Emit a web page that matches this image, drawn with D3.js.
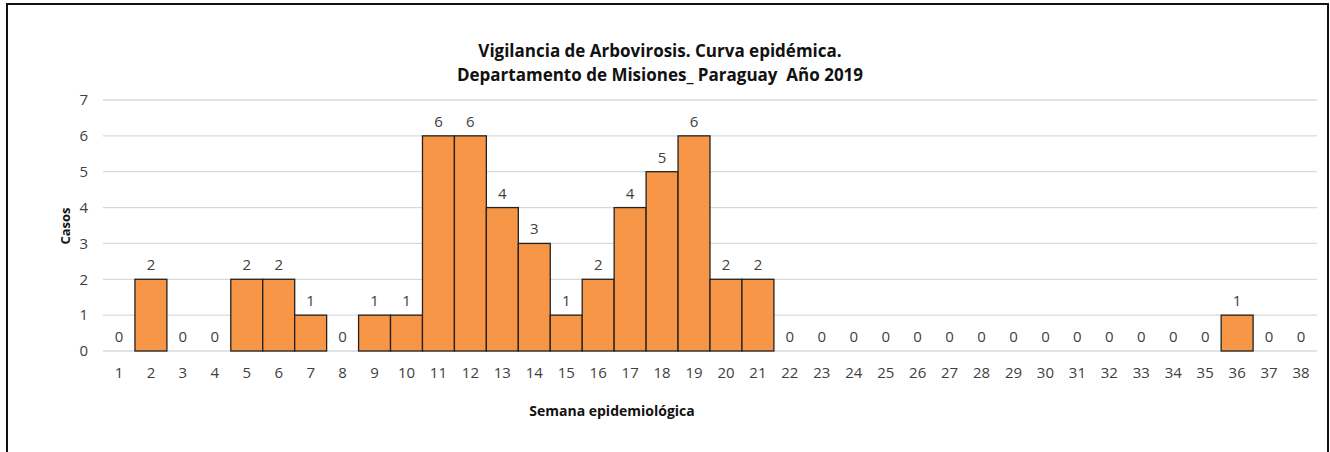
<!DOCTYPE html>
<html>
<head>
<meta charset="utf-8">
<script src="https://cdn.jsdelivr.net/npm/d3@7"></script>
<style>
  html, body { margin: 0; padding: 0; background: #fff; }
  svg { display: block; font-family: "Open Sans", "Noto Sans", sans-serif; }
</style>
</head>
<body>
<svg id="chart" width="1330" height="452"></svg>
<script>
  const weeks = d3.range(1, 39).map(String);
  const cases = [0, 2, 0, 0, 2, 2, 1, 0, 1, 1, 6, 6, 4, 3, 1, 2, 4, 5, 6, 2, 2,
    0, 0, 0, 0, 0, 0, 0, 0, 0, 0, 0, 0, 0, 0, 1, 0, 0];
  const yTicks = [0, 1, 2, 3, 4, 5, 6, 7];
  const titleLines = ['Vigilancia de Arbovirosis. Curva epidémica.', 'Departamento de Misiones_ Paraguay  Año 2019'];

  const svg = d3.select('#chart');
  const margin = { left: 103, right: 13, top: 100, bottom: 101 };
  const width = 1330, height = 452;
  const numFont = 15;

  // frame
  svg.append('rect')
    .attr('x', 7).attr('y', 4)
    .attr('width', 1321).attr('height', 460)
    .attr('fill', 'none').attr('stroke', '#111').attr('stroke-width', 2);

  const x = d3.scaleBand()
    .domain(weeks)
    .range([margin.left, width - margin.right])
    .padding(0);

  const y = d3.scaleLinear()
    .domain([0, 7])
    .range([height - margin.bottom, margin.top]);

  // gridlines
  svg.append('g')
    .selectAll('line')
    .data(yTicks)
    .enter()
    .append('line')
    .attr('x1', margin.left)
    .attr('x2', width - margin.right)
    .attr('y1', function (d) { return y(d); })
    .attr('y2', function (d) { return y(d); })
    .attr('stroke', '#d9d9d9')
    .attr('stroke-width', 1.3);

  // y axis labels
  const yAxis = svg.append('g')
    .attr('transform', 'translate(' + (margin.left - 10) + ',0)')
    .call(d3.axisLeft(y).tickValues(yTicks).tickFormat(d3.format('d')).tickSize(0).tickPadding(5));
  yAxis.select('.domain').remove();
  yAxis.selectAll('text')
    .attr('font-family', '"Open Sans", "Noto Sans", sans-serif')
    .attr('font-size', numFont)
    .attr('fill', '#404040');

  // x axis labels
  const xAxis = svg.append('g')
    .attr('transform', 'translate(0,' + y(0) + ')')
    .call(d3.axisBottom(x).tickSize(0).tickPadding(16));
  xAxis.select('.domain').remove();
  xAxis.selectAll('text')
    .attr('font-family', '"Open Sans", "Noto Sans", sans-serif')
    .attr('font-size', numFont)
    .attr('fill', '#404040');

  const data = weeks.map(function (w, i) { return { week: w, value: cases[i] }; });

  // bars
  svg.append('g')
    .selectAll('rect')
    .data(data.filter(function (d) { return d.value > 0; }))
    .enter()
    .append('rect')
    .attr('x', function (d) { return x(d.week); })
    .attr('y', function (d) { return y(d.value); })
    .attr('width', x.bandwidth())
    .attr('height', function (d) { return y(0) - y(d.value); })
    .attr('fill', '#f79646')
    .attr('stroke', '#222')
    .attr('stroke-width', 1.3);

  // data labels
  svg.append('g')
    .selectAll('text')
    .data(data)
    .enter()
    .append('text')
    .attr('x', function (d) { return x(d.week) + x.bandwidth() / 2; })
    .attr('y', function (d) { return y(d.value) - 9; })
    .attr('text-anchor', 'middle')
    .attr('font-size', numFont)
    .attr('fill', '#404040')
    .text(function (d) { return d.value; });

  // title
  svg.append('g')
    .selectAll('text')
    .data(titleLines)
    .enter()
    .append('text')
    .attr('x', 660)
    .attr('y', function (d, i) { return 57 + i * 24; })
    .attr('text-anchor', 'middle')
    .attr('font-size', 17)
    .attr('font-weight', 'bold')
    .attr('fill', '#111')
    .attr('xml:space', 'preserve')
    .text(function (d) { return d; });

  // axis titles
  svg.append('text')
    .attr('transform', 'translate(70,226) rotate(-90)')
    .attr('text-anchor', 'middle')
    .attr('font-size', 13)
    .attr('font-weight', 'bold')
    .attr('fill', '#111')
    .text('Casos');

  svg.append('text')
    .attr('x', 612)
    .attr('y', 416)
    .attr('text-anchor', 'middle')
    .attr('font-size', 14)
    .attr('font-weight', 'bold')
    .attr('fill', '#111')
    .text('Semana epidemiológica');
</script>
</body>
</html>
